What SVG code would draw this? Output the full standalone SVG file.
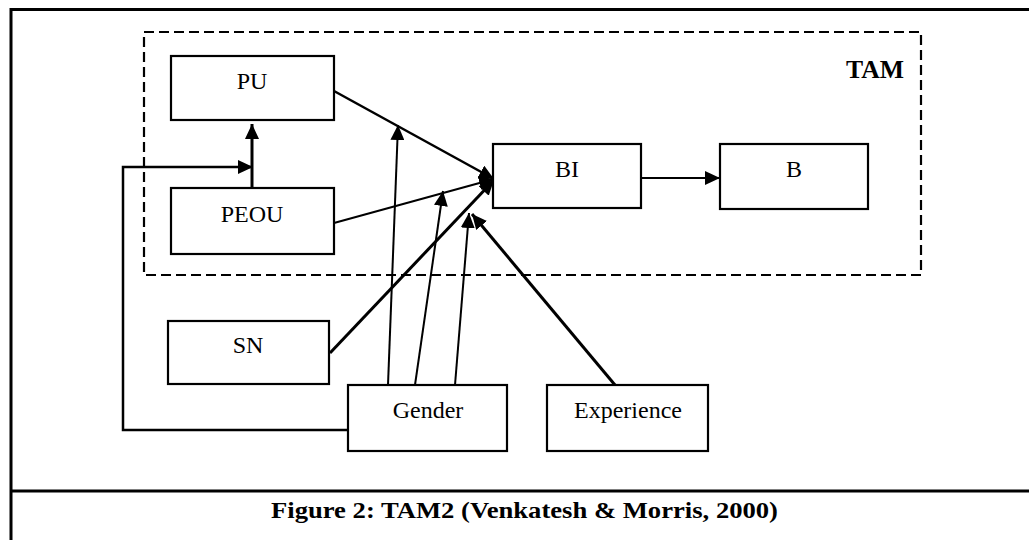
<svg xmlns="http://www.w3.org/2000/svg" width="1029" height="540" viewBox="0 0 1029 540">
<defs>
<style>
.box{fill:#fff;stroke:#000;stroke-width:2.2}
.lbl{font-family:"Liberation Serif","Times New Roman",serif;font-size:24px;fill:#000;text-anchor:middle}
.bold{font-family:"Liberation Serif","Times New Roman",serif;font-weight:bold;fill:#000}
.c{fill:none;stroke:#000}
.frame{stroke:#000;stroke-width:3;fill:none}
</style>
<marker id="ah" viewBox="0 0 15 14" markerWidth="15" markerHeight="14" refX="15" refY="7" orient="auto" markerUnits="userSpaceOnUse">
<path d="M0,0 L15,7 L0,14 z" fill="#000"/>
</marker>
</defs>
<rect width="1029" height="540" fill="#fff"/>
<g id="frame">
<line class="frame" x1="10" y1="9.5" x2="1029" y2="9.5"/>
<line class="frame" x1="11" y1="8" x2="11" y2="540"/>
<line class="frame" x1="10" y1="491" x2="1029" y2="491"/>
</g>
<g id="tam-group">
<rect x="144" y="32" width="777" height="243" fill="none" stroke="#000" stroke-width="2.2" stroke-dasharray="10,5"/>
<text class="bold" x="875" y="78" font-size="25" text-anchor="middle" textLength="58" lengthAdjust="spacingAndGlyphs">TAM</text>
</g>
<g id="connectors">
<line class="c" stroke-width="2" x1="641" y1="178" x2="720" y2="178" marker-end="url(#ah)"/>
<line class="c" stroke-width="2.5" x1="334" y1="91" x2="494" y2="179" marker-end="url(#ah)"/>
<line class="c" stroke-width="2" x1="334" y1="223" x2="494" y2="179" marker-end="url(#ah)"/>
<line class="c" stroke-width="3" x1="330" y1="353" x2="494" y2="180" marker-end="url(#ah)"/>
<line class="c" stroke-width="3" x1="252" y1="189" x2="252" y2="124" marker-end="url(#ah)"/>
<polyline class="c" stroke-width="2.5" points="348,430 123,430 123,167 253,167" marker-end="url(#ah)"/>
<line class="c" stroke-width="2" x1="388" y1="385" x2="398" y2="125" marker-end="url(#ah)"/>
<line class="c" stroke-width="2" x1="415" y1="385" x2="443" y2="191" marker-end="url(#ah)"/>
<line class="c" stroke-width="2" x1="455" y1="385" x2="469" y2="213" marker-end="url(#ah)"/>
<line class="c" stroke-width="3" x1="615" y1="385" x2="472" y2="214" marker-end="url(#ah)"/>
</g>
<g id="PU"><rect class="box" x="171" y="56" width="163" height="64"/><text class="lbl" x="252" y="89">PU</text></g>
<g id="PEOU"><rect class="box" x="171" y="188" width="163" height="66"/><text class="lbl" x="252" y="222">PEOU</text></g>
<g id="BI"><rect class="box" x="493" y="144" width="148" height="64"/><text class="lbl" x="567" y="177">BI</text></g>
<g id="B"><rect class="box" x="720" y="144" width="148" height="65"/><text class="lbl" x="794" y="177">B</text></g>
<g id="SN"><rect class="box" x="168" y="321" width="161" height="63"/><text class="lbl" x="248" y="353">SN</text></g>
<g id="Gender"><rect class="box" x="348" y="385" width="159" height="66"/><text class="lbl" x="428" y="418">Gender</text></g>
<g id="Experience"><rect class="box" x="547" y="385" width="161" height="66"/><text class="lbl" x="628" y="418">Experience</text></g>
<g id="caption">
<text class="bold" x="271" y="518" font-size="24" textLength="507" lengthAdjust="spacingAndGlyphs">Figure 2: TAM2 (Venkatesh &amp; Morris, 2000)</text>
</g>
</svg>
